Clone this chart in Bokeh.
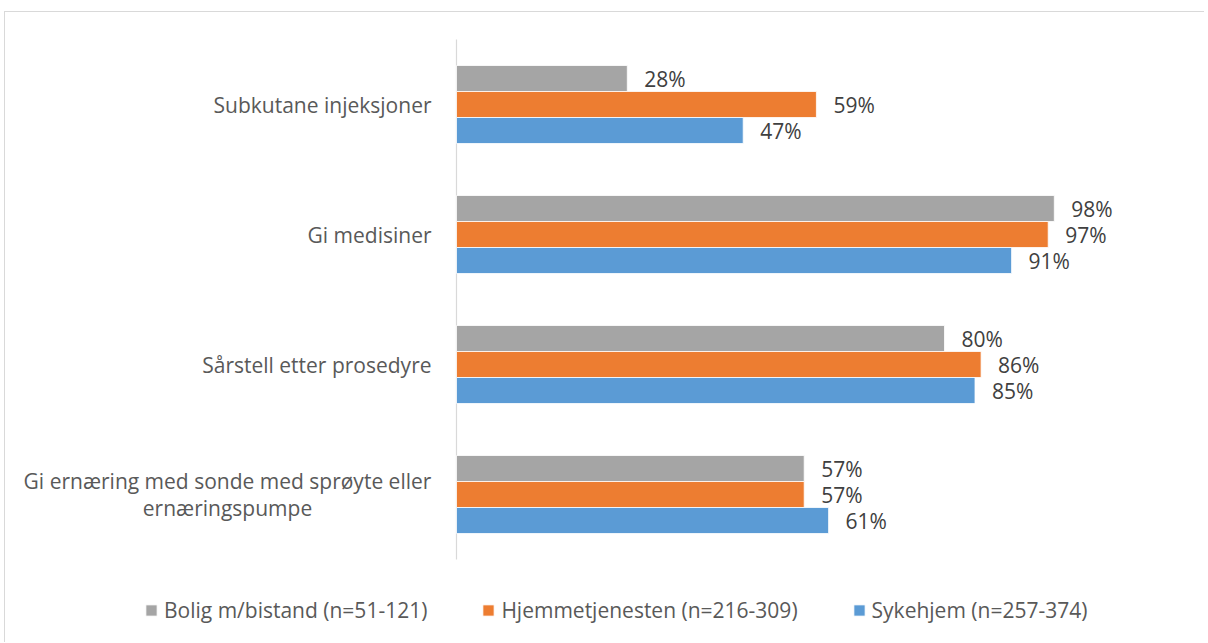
from bokeh.plotting import figure
from bokeh.models import Range1d, ColumnDataSource, Legend, LegendItem
from bokeh.embed import file_html
from bokeh.resources import INLINE
from bokeh.core.properties import value

categories = ["Subkutane injeksjoner", "Gi medisiner", "Sårstell etter prosedyre",
              "Gi ernæring med sonde med sprøyte eller\nernæringspumpe"]
series_names = ["Bolig m/bistand (n=51-121)", "Hjemmetjenesten (n=216-309)", "Sykehjem (n=257-374)"]
bolig = [28, 98, 80, 57]
hjemme = [59, 97, 86, 57]
syke = [47, 91, 85, 61]
colors = ["#A5A5A5", "#ED7D31", "#5B9BD5"]

FONT = "Open Sans"
FS = "21px"
W, H = 1200, 631
PX_PER_PCT = 6.1
ZERO_PX = 451      # canvas px of 0 %
CAT0_PX = 92       # canvas px of first category centre
CAT_STEP = 130     # px per category

xs = -ZERO_PX / PX_PER_PCT
xe = xs + W / PX_PER_PCT
ytop = -CAT0_PX / CAT_STEP
ybot = (H - CAT0_PX) / CAT_STEP

p = figure(width=W, height=H, output_backend="svg", toolbar_location=None,
           x_range=Range1d(xs, xe), y_range=Range1d(ybot, ytop),
           min_border_left=0, min_border_right=0, min_border_top=0, min_border_bottom=0)
p.styles = {"margin-left": "4px", "margin-top": "11px",
            "border-top": "1px solid #d9d9d9", "border-left": "1px solid #d9d9d9"}
p.outline_line_color = None
p.xgrid.visible = False
p.ygrid.visible = False
p.xaxis.visible = False
p.yaxis.visible = False

# category axis line
p.segment(x0=[0], y0=[-0.5], x1=[0], y1=[len(categories) - 0.5],
          line_color="#d9d9d9", line_width=1.2)

# category labels
single = [(i, c) for i, c in enumerate(categories) if "\n" not in c]
multi = [(i, c) for i, c in enumerate(categories) if "\n" in c]
p.text(x=[0] * len(single), y=[i for i, _ in single], text=[c for _, c in single],
       x_offset=-25, text_align="right", text_baseline="middle",
       text_color="#595959", text_font=value(FONT), text_font_size=FS)
p.text(x=[0] * len(multi), y=[i for i, _ in multi], text=[c for _, c in multi],
       x_offset=-229, text_align="center", text_baseline="middle", text_line_height=0.96,
       text_color="#595959", text_font=value(FONT), text_font_size=FS)

offsets = [-0.2, 0.0, 0.2]
items = []
for vals, off, col, name in zip([bolig, hjemme, syke], offsets, colors, series_names):
    ys = [i + off for i in range(len(categories))]
    src = ColumnDataSource(dict(y=ys, right=vals, lab=[f"{v}%" for v in vals]))
    r = p.hbar(y="y", left=0, right="right", height=0.2, source=src,
               fill_color=col, line_color="white", line_width=0.8)
    p.text(x="right", y="y", text="lab", source=src, x_offset=17,
           text_align="left", text_baseline="middle", text_color="#404040",
           text_font=value(FONT), text_font_size=FS)
    items.append(LegendItem(label=name, renderers=[r]))

legend = Legend(items=items, orientation="horizontal", location=(139, 19),
                glyph_width=14, glyph_height=14, label_standoff=6, spacing=54,
                label_height=24, label_text_font=FONT, label_text_font_size=FS,
                label_text_color="#595959", border_line_color=None,
                background_fill_alpha=0, padding=0, margin=0)
p.add_layout(legend)

open("out.html", "w").write(file_html(p, INLINE))
